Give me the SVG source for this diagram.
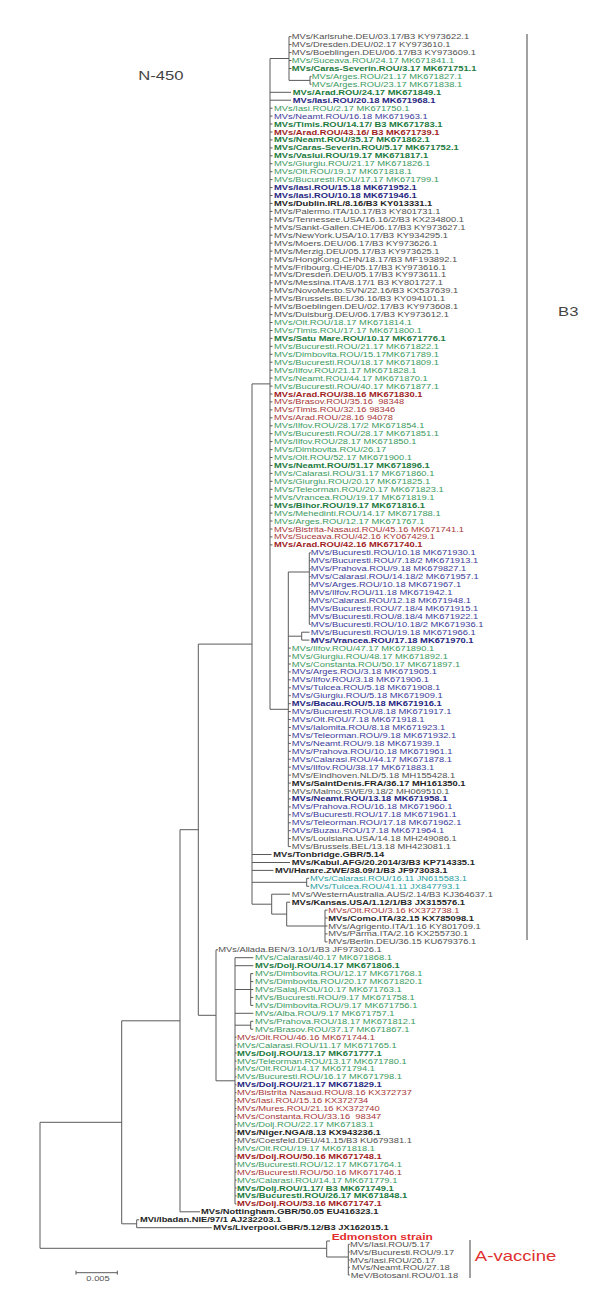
<svg xmlns="http://www.w3.org/2000/svg" width="611" height="1299" viewBox="0 0 611 1299">
<style>
.t{font-family:"Liberation Sans",Arial,sans-serif;font-size:7.3px}
.k{fill:#505050}.kb{fill:#262626;font-weight:bold}
.g{fill:#3a9a5e}.gb{fill:#237a3e;font-weight:bold}
.b{fill:#3b3b98}.bb{fill:#27277f;font-weight:bold}
.r{fill:#a83838}.rb{fill:#a01e1e;font-weight:bold}
.tl{fill:#2aa0a0}
.ln{fill:none;stroke:#5a5a5a;stroke-width:1}
.big{font-family:"Liberation Sans",Arial,sans-serif;font-size:13px;fill:#444}
</style>
<rect width="611" height="1299" fill="#fff"/>
<g id="connectors" class="ln">
<path d="M289 36.7V80.4M289 36.7h2.5M289 44.6h2.5M289 52.6h2.5M289 60.5h2.5M289 68.5h2.5M289 80.4H310M310 76.4V84.3M310 76.4h1.5M310 84.3h1.5M270 58.5H289M270 58.5V709.3M270 92.3H291M270 100.2H291"/>
<path d="M270 108.2h2.5M270 116.1h2.5M270 124h2.5M270 132h2.5M270 139.9h2.5M270 147.9h2.5M270 155.8h2.5M270 163.7h2.5M270 171.7h2.5M270 179.6h2.5M270 187.6h2.5M270 195.5h2.5M270 203.4h2.5M270 211.4h2.5M270 219.3h2.5M270 227.3h2.5M270 235.2h2.5M270 243.1h2.5M270 251.1h2.5M270 259h2.5M270 267h2.5M270 274.9h2.5M270 282.8h2.5M270 290.8h2.5M270 298.7h2.5M270 306.7h2.5M270 314.6h2.5M270 322.5h2.5M270 330.5h2.5M270 338.4h2.5M270 346.4h2.5M270 354.3h2.5M270 362.2h2.5M270 370.2h2.5M270 378.1h2.5M270 386.1h2.5M270 394h2.5M270 401.9h2.5M270 409.9h2.5M270 417.8h2.5M270 425.8h2.5M270 433.7h2.5M270 441.6h2.5M270 449.6h2.5M270 457.5h2.5M270 465.5h2.5M270 473.4h2.5M270 481.3h2.5M270 489.3h2.5M270 497.2h2.5M270 505.2h2.5M270 513.1h2.5M270 521h2.5M270 529h2.5M270 536.9h2.5M270 544.9h2.5"/>
<path d="M270 709.3H288.3M288.3 572V846.6M288.3 572H309.3M309.3 552.8V624.3M309.3 552.8h1.5M309.3 560.7h1.5M309.3 568.7h1.5M309.3 576.6h1.5M309.3 584.6h1.5M309.3 592.5h1.5M309.3 600.4h1.5M309.3 608.4h1.5M309.3 616.3h1.5M309.3 624.3h1.5M288.3 636.2H301.7M301.7 632.2V640.1M301.7 632.2H309.5M301.7 640.1H309.5"/>
<path d="M288.3 648.1h2.5M288.3 656h2.5M288.3 664h2.5M288.3 671.9h2.5M288.3 679.8h2.5M288.3 687.8h2.5M288.3 695.7h2.5M288.3 703.7h2.5M288.3 711.6h2.5M288.3 719.5h2.5M288.3 727.5h2.5M288.3 735.4h2.5M288.3 743.4h2.5M288.3 751.3h2.5M288.3 759.2h2.5M288.3 767.2h2.5M288.3 775.1h2.5M288.3 783.1h2.5M288.3 791h2.5M288.3 798.9h2.5M288.3 806.9h2.5M288.3 814.8h2.5M288.3 822.8h2.5M288.3 830.7h2.5M288.3 838.6h2.5M288.3 846.6h2.5"/>
<path d="M252 383.9H270M252 383.9V904.2M252 854.5H271.5M252 862.5H290M252 870.4H273.5M252 882.3H306.7M306.7 878.3V886.3M306.7 878.3h2.5M306.7 886.3h2.5M252 904.2H271.7M271.7 894.2V914.1M271.7 894.2H290M271.7 914.1H286.7M286.7 902.2V926M286.7 902.2h3.5M286.7 926H325M325 910.1V941.9M325 910.1h2.5M325 918h2.5M325 926h2.5M325 933.9h2.5M325 941.9h2.5"/>
<path d="M198.3 644.1H252M198.3 644.1V1015.3M198.3 1015.3H216M216 949.8V1080.8M216 949.8h2M216 1080.8H235M235 957.7V1203.9M235 957.7H253.3M235 965.7H253.3M235 989.5H250.7M250.7 973.6V1005.4M250.7 973.6H253.3M250.7 981.6H253.3M250.7 989.5H253.3M250.7 997.4H253.3M250.7 1005.4H253.3M235 1013.3H253.3M235 1025.2H250.7M250.7 1021.3V1029.2M250.7 1021.3H253.3M250.7 1029.2H253.3"/>
<path d="M235 1037.1h1.5M235 1045.1h1.5M235 1053h1.5M235 1061h1.5M235 1068.9h1.5M235 1076.8h1.5M235 1084.8h1.5M235 1092.7h1.5M235 1100.7h1.5M235 1108.6h1.5M235 1116.5h1.5M235 1124.5h1.5M235 1132.4h1.5M235 1140.4h1.5M235 1148.3h1.5M235 1156.2h1.5M235 1164.2h1.5M235 1172.1h1.5M235 1180.1h1.5M235 1188h1.5M235 1195.9h1.5M235 1203.9h1.5"/>
<path d="M180 829.7H198.3M180 829.7V1211.8M180 1211.8H200M121.7 1020.8H180M121.7 1020.8V1223.8M121.7 1223.8H136.7M136.7 1219.8V1227.7M136.7 1219.8h2.5M136.7 1227.7H211.7M40 1122.3H121.7M40 1122.3V1248.3M40 1248.3H326.7M326.7 1241V1257M326.7 1241H330M326.7 1257H348.3M348.3 1244.3V1275M348.3 1244.3h1.5M348.3 1252h1.5M348.3 1260h1.5M348.3 1267.3h1.5M348.3 1275h1.5"/>
<path d="M76 1272.7H117.3M76 1270.7V1274.7M117.3 1270.7V1274.7"/>
<path d="M527 34V940M470 1240V1278" stroke="#444"/>
</g>
<g class="t" transform="scale(1.28 1)">
<g id="L1"><text x="227.9" y="39.3" class="k">MVs/Karlsruhe.DEU/03.17/B3 KY973622.1</text></g>
<g id="L2"><text x="227.9" y="47.2" class="k">MVs/Dresden.DEU/02.17 KY973610.1</text></g>
<g id="L3"><text x="227.9" y="55.2" class="k">MVs/Boeblingen.DEU/06.17/B3 KY973609.1</text></g>
<g id="L4"><text x="227.9" y="63.1" class="g">MVs/Suceava.ROU/24.17 MK671841.1</text></g>
<g id="L5"><text x="227.9" y="71.1" class="gb">MVs/Caras-Severin.ROU/3.17 MK671751.1</text></g>
<g id="L6"><text x="243.5" y="79" class="g">MVs/Arges.ROU/21.17 MK671827.1</text></g>
<g id="L7"><text x="243.5" y="86.9" class="g">MVs/Arges.ROU/23.17 MK671838.1</text></g>
<g id="L8"><text x="228.7" y="94.9" class="gb">MVs/Arad.ROU/24.17 MK671849.1</text></g>
<g id="L9"><text x="228.7" y="102.8" class="bb">MVs/Iasi.ROU/20.18 MK671968.1</text></g>
<g id="L10"><text x="214.1" y="110.8" class="g">MVs/Iasi.ROU/2.17 MK671750.1</text></g>
<g id="L11"><text x="214.1" y="118.7" class="b">MVs/Neamt.ROU/16.18 MK671963.1</text></g>
<g id="L12"><text x="214.1" y="126.6" class="gb">MVs/Timis.ROU/14.17/ B3 MK671783.1</text></g>
<g id="L13"><text x="214.1" y="134.6" class="rb">MVs/Arad.ROU/43.16/ B3 MK671739.1</text></g>
<g id="L14"><text x="214.1" y="142.5" class="gb">MVs/Neamt.ROU/35.17 MK671862.1</text></g>
<g id="L15"><text x="214.1" y="150.5" class="gb">MVs/Caras-Severin.ROU/5.17 MK671752.1</text></g>
<g id="L16"><text x="214.1" y="158.4" class="gb">MVs/Vaslui.ROU/19.17 MK671817.1</text></g>
<g id="L17"><text x="214.1" y="166.3" class="g">MVs/Giurgiu.ROU/21.17 MK671826.1</text></g>
<g id="L18"><text x="214.1" y="174.3" class="g">MVs/Olt.ROU/19.17 MK671818.1</text></g>
<g id="L19"><text x="214.1" y="182.2" class="g">MVs/Bucuresti.ROU/17.17 MK671799.1</text></g>
<g id="L20"><text x="214.1" y="190.2" class="bb">MVs/Iasi.ROU/15.18 MK671952.1</text></g>
<g id="L21"><text x="214.1" y="198.1" class="bb">MVs/Iasi.ROU/10.18 MK671946.1</text></g>
<g id="L22"><text x="214.1" y="206" class="kb">MVs/Dublin.IRL/8.16/B3 KY013331.1</text></g>
<g id="L23"><text x="214.1" y="214" class="k">MVs/Palermo.ITA/10.17/B3 KY801731.1</text></g>
<g id="L24"><text x="214.1" y="221.9" class="k">MVs/Tennessee.USA/16.16/2/B3 KX234800.1</text></g>
<g id="L25"><text x="214.1" y="229.9" class="k">MVs/Sankt-Gallen.CHE/06.17/B3 KY973627.1</text></g>
<g id="L26"><text x="214.1" y="237.8" class="k">MVs/NewYork.USA/10.17/B3 KY934295.1</text></g>
<g id="L27"><text x="214.1" y="245.7" class="k">MVs/Moers.DEU/06.17/B3 KY973626.1</text></g>
<g id="L28"><text x="214.1" y="253.7" class="k">MVs/Merzig.DEU/05.17/B3 KY973625.1</text></g>
<g id="L29"><text x="214.1" y="261.6" class="k">MVs/HongKong.CHN/18.17/B3 MF193892.1</text></g>
<g id="L30"><text x="214.1" y="269.6" class="k">MVs/Fribourg.CHE/05.17/B3 KY973616.1</text></g>
<g id="L31"><text x="214.1" y="277.5" class="k">MVs/Dresden.DEU/05.17/B3 KY973611.1</text></g>
<g id="L32"><text x="214.1" y="285.4" class="k">MVs/Messina.ITA/8.17/1 B3 KY801727.1</text></g>
<g id="L33"><text x="214.1" y="293.4" class="k">MVs/NovoMesto.SVN/22.16/B3 KX537639.1</text></g>
<g id="L34"><text x="214.1" y="301.3" class="k">MVs/Brussels.BEL/36.16/B3 KY094101.1</text></g>
<g id="L35"><text x="214.1" y="309.3" class="k">MVs/Boeblingen.DEU/02.17/B3 KY973608.1</text></g>
<g id="L36"><text x="214.1" y="317.2" class="k">MVs/Duisburg.DEU/06.17/B3 KY973612.1</text></g>
<g id="L37"><text x="214.1" y="325.1" class="g">MVs/Olt.ROU/18.17 MK671814.1</text></g>
<g id="L38"><text x="214.1" y="333.1" class="g">MVs/Timis.ROU/17.17 MK671800.1</text></g>
<g id="L39"><text x="214.1" y="341" class="gb">MVs/Satu Mare.ROU/10.17 MK671776.1</text></g>
<g id="L40"><text x="214.1" y="349" class="g">MVs/Bucuresti.ROU/21.17 MK671822.1</text></g>
<g id="L41"><text x="214.1" y="356.9" class="g">MVs/Dimbovita.ROU/15.17MK671789.1</text></g>
<g id="L42"><text x="214.1" y="364.8" class="g">MVs/Bucuresti.ROU/18.17 MK671809.1</text></g>
<g id="L43"><text x="214.1" y="372.8" class="g">MVs/Ilfov.ROU/21.17 MK671828.1</text></g>
<g id="L44"><text x="214.1" y="380.7" class="g">MVs/Neamt.ROU/44.17 MK671870.1</text></g>
<g id="L45"><text x="214.1" y="388.7" class="g">MVs/Bucuresti.ROU/40.17 MK671877.1</text></g>
<g id="L46"><text x="214.1" y="396.6" class="rb">MVs/Arad.ROU/38.16 MK671830.1</text></g>
<g id="L47"><text x="214.1" y="404.5" class="r">MVs/Brasov.ROU/35.16&#160; 98348</text></g>
<g id="L48"><text x="214.1" y="412.5" class="r">MVs/Timis.ROU/32.16 98346</text></g>
<g id="L49"><text x="214.1" y="420.4" class="r">MVs/Arad.ROU/28.16 94078</text></g>
<g id="L50"><text x="214.1" y="428.4" class="g">MVs/Ilfov.ROU/28.17/2 MK671854.1</text></g>
<g id="L51"><text x="214.1" y="436.3" class="g">MVs/Bucuresti.ROU/28.17 MK671851.1</text></g>
<g id="L52"><text x="214.1" y="444.2" class="g">MVs/Ilfov.ROU/28.17 MK671850.1</text></g>
<g id="L53"><text x="214.1" y="452.2" class="g">MVs/Dimbovita.ROU/26.17</text></g>
<g id="L54"><text x="214.1" y="460.1" class="g">MVs/Olt.ROU/52.17 MK671900.1</text></g>
<g id="L55"><text x="214.1" y="468.1" class="gb">MVs/Neamt.ROU/51.17 MK671896.1</text></g>
<g id="L56"><text x="214.1" y="476" class="g">MVs/Calarasi.ROU/31.17 MK671860.1</text></g>
<g id="L57"><text x="214.1" y="483.9" class="g">MVs/Giurgiu.ROU/20.17 MK671825.1</text></g>
<g id="L58"><text x="214.1" y="491.9" class="g">MVs/Teleorman.ROU/20.17 MK671823.1</text></g>
<g id="L59"><text x="214.1" y="499.8" class="g">MVs/Vrancea.ROU/19.17 MK671819.1</text></g>
<g id="L60"><text x="214.1" y="507.8" class="gb">MVs/Bihor.ROU/19.17 MK671816.1</text></g>
<g id="L61"><text x="214.1" y="515.7" class="g">MVs/Mehedinti.ROU/14.17 MK671788.1</text></g>
<g id="L62"><text x="214.1" y="523.6" class="g">MVs/Arges.ROU/12.17 MK671767.1</text></g>
<g id="L63"><text x="214.1" y="531.6" class="r">MVs/Bistrita-Nasaud.ROU/45.16 MK671741.1</text></g>
<g id="L64"><text x="214.1" y="539.5" class="r">MVs/Suceava.ROU/42.16 KY067429.1</text></g>
<g id="L65"><text x="214.1" y="547.5" class="rb">MVs/Arad.ROU/42.16 MK671740.1</text></g>
<g id="L66"><text x="242.7" y="555.4" class="b">MVs/Bucuresti.ROU/10.18 MK671930.1</text></g>
<g id="L67"><text x="242.7" y="563.3" class="b">MVs/Bucuresti.ROU/7.18/2 MK671913.1</text></g>
<g id="L68"><text x="242.7" y="571.3" class="b">MVs/Prahova.ROU/9.18 MK679827.1</text></g>
<g id="L69"><text x="242.7" y="579.2" class="b">MVs/Calarasi.ROU/14.18/2 MK671957.1</text></g>
<g id="L70"><text x="242.7" y="587.2" class="b">MVs/Arges.ROU/10.18 MK671967.1</text></g>
<g id="L71"><text x="242.7" y="595.1" class="b">MVs/Ilfov.ROU/11.18 MK671942.1</text></g>
<g id="L72"><text x="242.7" y="603" class="b">MVs/Calarasi.ROU/12.18 MK671948.1</text></g>
<g id="L73"><text x="242.7" y="611" class="b">MVs/Bucuresti.ROU/7.18/4 MK671915.1</text></g>
<g id="L74"><text x="242.7" y="618.9" class="b">MVs/Bucuresti.ROU/8.18/4 MK671922.1</text></g>
<g id="L75"><text x="242.7" y="626.9" class="b">MVs/Bucuresti.ROU/10.18/2 MK671936.1</text></g>
<g id="L76"><text x="242.7" y="634.8" class="b">MVs/Bucuresti.ROU/19.18 MK671966.1</text></g>
<g id="L77"><text x="242.7" y="642.7" class="bb">MVs/Vrancea.ROU/17.18 MK671970.1</text></g>
<g id="L78"><text x="227.9" y="650.7" class="g">MVs/Ilfov.ROU/47.17 MK671890.1</text></g>
<g id="L79"><text x="227.9" y="658.6" class="g">MVs/Giurgiu.ROU/48.17 MK671892.1</text></g>
<g id="L80"><text x="227.9" y="666.6" class="g">MVs/Constanta.ROU/50.17 MK671897.1</text></g>
<g id="L81"><text x="227.9" y="674.5" class="b">MVs/Arges.ROU/3.18 MK671905.1</text></g>
<g id="L82"><text x="227.9" y="682.4" class="b">MVs/Ilfov.ROU/3.18 MK671906.1</text></g>
<g id="L83"><text x="227.9" y="690.4" class="b">MVs/Tulcea.ROU/5.18 MK671908.1</text></g>
<g id="L84"><text x="227.9" y="698.3" class="b">MVs/Giurgiu.ROU/5.18 MK671909.1</text></g>
<g id="L85"><text x="227.9" y="706.3" class="bb">MVs/Bacau.ROU/5.18 MK671916.1</text></g>
<g id="L86"><text x="227.9" y="714.2" class="b">MVs/Bucuresti.ROU/8.18 MK671917.1</text></g>
<g id="L87"><text x="227.9" y="722.1" class="b">MVs/Olt.ROU/7.18 MK671918.1</text></g>
<g id="L88"><text x="227.9" y="730.1" class="b">MVs/Ialomita.ROU/8.18 MK671923.1</text></g>
<g id="L89"><text x="227.9" y="738" class="b">MVs/Teleorman.ROU/9.18 MK671932.1</text></g>
<g id="L90"><text x="227.9" y="746" class="b">MVs/Neamt.ROU/9.18 MK671939.1</text></g>
<g id="L91"><text x="227.9" y="753.9" class="b">MVs/Prahova.ROU/10.18 MK671961.1</text></g>
<g id="L92"><text x="227.9" y="761.8" class="b">MVs/Calarasi.ROU/44.17 MK671878.1</text></g>
<g id="L93"><text x="227.9" y="769.8" class="b">MVs/Ilfov.ROU/38.17 MK671883.1</text></g>
<g id="L94"><text x="227.9" y="777.7" class="k">MVs/Eindhoven.NLD/5.18 MH155428.1</text></g>
<g id="L95"><text x="227.9" y="785.7" class="kb">MVs/SaintDenis.FRA/36.17 MH161350.1</text></g>
<g id="L96"><text x="227.9" y="793.6" class="k">MVs/Malmo.SWE/9.18/2 MH069510.1</text></g>
<g id="L97"><text x="227.9" y="801.5" class="bb">MVs/Neamt.ROU/13.18 MK671958.1</text></g>
<g id="L98"><text x="227.9" y="809.5" class="b">MVs/Prahova.ROU/16.18 MK671960.1</text></g>
<g id="L99"><text x="227.9" y="817.4" class="b">MVs/Bucuresti.ROU/17.18 MK671961.1</text></g>
<g id="L100"><text x="227.9" y="825.4" class="b">MVs/Teleorman.ROU/17.18 MK671962.1</text></g>
<g id="L101"><text x="227.9" y="833.3" class="b">MVs/Buzau.ROU/17.18 MK671964.1</text></g>
<g id="L102"><text x="227.9" y="841.2" class="k">MVs/Louisiana.USA/14.18 MH249086.1</text></g>
<g id="L103"><text x="227.9" y="849.2" class="k">MVs/Brussels.BEL/13.18 MH423081.1</text></g>
<g id="L104"><text x="213.5" y="857.1" class="kb">MVs/Tonbridge.GBR/5.14</text></g>
<g id="L105"><text x="227.9" y="865.1" class="kb">MVs/Kabul.AFG/20.2014/3/B3 KP714335.1</text></g>
<g id="L106"><text x="214.8" y="873" class="kb">MVi/Harare.ZWE/38.09/1/B3 JF973033.1</text></g>
<g id="L107"><text x="242.2" y="880.9" class="tl">MVs/Calarasi.ROU/16.11 JN615583.1</text></g>
<g id="L108"><text x="242.2" y="888.9" class="tl">MVs/Tulcea.ROU/41.11 JX847793.1</text></g>
<g id="L109"><text x="227.9" y="896.8" class="k">MVs/WesternAustralia.AUS/2.14/B3 KJ364637.1</text></g>
<g id="L110"><text x="227.9" y="904.8" class="kb">MVs/Kansas.USA/1.12/1/B3 JX315576.1</text></g>
<g id="L111"><text x="256.5" y="912.7" class="r">MVs/Olt.ROU/3.16 KX372738.1</text></g>
<g id="L112"><text x="256.5" y="920.6" class="kb">MVs/Como.ITA/32.15 KX785098.1</text></g>
<g id="L113"><text x="256.5" y="928.6" class="k">MVs/Agrigento.ITA/1.16 KY801709.1</text></g>
<g id="L114"><text x="256.5" y="936.5" class="k">MVs/Parma.ITA/2.16 KX255730.1</text></g>
<g id="L115"><text x="256.5" y="944.5" class="k">MVs/Berlin.DEU/36.15 KU679376.1</text></g>
<g id="L116"><text x="170.5" y="952.4" class="k">MVs/Allada.BEN/3.10/1/B3 JF973026.1</text></g>
<g id="L117"><text x="199.2" y="960.3" class="g">MVs/Calarasi/40.17 MK671868.1</text></g>
<g id="L118"><text x="199.2" y="968.3" class="gb">MVs/Dolj.ROU/14.17 MK671806.1</text></g>
<g id="L119"><text x="199.2" y="976.2" class="g">MVs/Dimbovita.ROU/12.17 MK671768.1</text></g>
<g id="L120"><text x="199.2" y="984.2" class="g">MVs/Dimbovita.ROU/20.17 MK671820.1</text></g>
<g id="L121"><text x="199.2" y="992.1" class="g">MVs/Salaj.ROU/10.17 MK671763.1</text></g>
<g id="L122"><text x="199.2" y="1000" class="g">MVs/Bucuresti.ROU/9.17 MK671758.1</text></g>
<g id="L123"><text x="199.2" y="1008" class="g">MVs/Dimbovita.ROU/9.17 MK671756.1</text></g>
<g id="L124"><text x="199.2" y="1015.9" class="g">MVs/Alba.ROU/9.17 MK671757.1</text></g>
<g id="L125"><text x="199.2" y="1023.9" class="g">MVs/Prahova.ROU/18.17 MK671812.1</text></g>
<g id="L126"><text x="199.2" y="1031.8" class="g">MVs/Brasov.ROU/37.17 MK671867.1</text></g>
<g id="L127"><text x="185.2" y="1039.7" class="r">MVs/Olt.ROU/46.16 MK671744.1</text></g>
<g id="L128"><text x="185.2" y="1047.7" class="g">MVs/Calarasi.ROU/11.17 MK671765.1</text></g>
<g id="L129"><text x="185.2" y="1055.6" class="gb">MVs/Dolj.ROU/13.17 MK671777.1</text></g>
<g id="L130"><text x="185.2" y="1063.6" class="g">MVs/Teleorman.ROU/13.17 MK671780.1</text></g>
<g id="L131"><text x="185.2" y="1071.5" class="g">MVs/Olt.ROU/14.17 MK671794.1</text></g>
<g id="L132"><text x="185.2" y="1079.4" class="g">MVs/Bucuresti.ROU/16.17 MK671798.1</text></g>
<g id="L133"><text x="185.2" y="1087.4" class="bb">MVs/Dolj.ROU/21.17 MK671829.1</text></g>
<g id="L134"><text x="185.2" y="1095.3" class="r">MVs/Bistrita Nasaud.ROU/8.16 KX372737</text></g>
<g id="L135"><text x="185.2" y="1103.3" class="r">MVs/Iasi.ROU/15.16 KX372734</text></g>
<g id="L136"><text x="185.2" y="1111.2" class="r">MVs/Mures.ROU/21.16 KX372740</text></g>
<g id="L137"><text x="185.2" y="1119.1" class="r">MVs/Constanta.ROU/33.16&#160; 98347</text></g>
<g id="L138"><text x="185.2" y="1127.1" class="g">MVs/Dolj.ROU/22.17 MK67183.1</text></g>
<g id="L139"><text x="185.2" y="1135" class="kb">MVs/Niger.NGA/8.13 KX943236.1</text></g>
<g id="L140"><text x="185.2" y="1143" class="k">MVs/Coesfeld.DEU/41.15/B3 KU679381.1</text></g>
<g id="L141"><text x="185.2" y="1150.9" class="g">MVs/Olt.ROU/19.17 MK671818.1</text></g>
<g id="L142"><text x="185.2" y="1158.8" class="rb">MVs/Dolj.ROU/50.16 MK671748.1</text></g>
<g id="L143"><text x="185.2" y="1166.8" class="g">MVs/Bucuresti.ROU/12.17 MK671764.1</text></g>
<g id="L144"><text x="185.2" y="1174.7" class="r">MVs/Bucuresti.ROU/50.16 MK671746.1</text></g>
<g id="L145"><text x="185.2" y="1182.7" class="g">MVs/Calarasi.ROU/14.17 MK671779.1</text></g>
<g id="L146"><text x="185.2" y="1190.6" class="gb">MVs/Dolj.ROU/1.17/ B3 MK671749.1</text></g>
<g id="L147"><text x="185.2" y="1198.5" class="gb">MVs/Bucuresti.ROU/26.17 MK671848.1</text></g>
<g id="L148"><text x="185.2" y="1206.5" class="rb">MVs/Dolj.ROU/53.16 MK671747.1</text></g>
<g id="L149"><text x="157" y="1214.4" class="kb">MVs/Nottingham.GBR/50.05 EU416323.1</text></g>
<g id="L150"><text x="109.4" y="1222.4" class="kb">MVi/Ibadan.NIE/97/1 AJ232203.1</text></g>
<g id="L151"><text x="166.6" y="1230.3" class="kb">MVs/Liverpool.GBR/5.12/B3 JX162015.1</text></g>
<g id="Edmonston"><text x="259.1" y="1239.6" style="font-size:9.3px;font-weight:bold;fill:#e32b2b">Edmonston strain</text></g>
<g id="V1"><text x="273.4" y="1246.9" class="k">MVs/Iasi.ROU/5.17</text></g>
<g id="V2"><text x="273.4" y="1254.6" class="k">MVs/Bucuresti.ROU/9.17</text></g>
<g id="V3"><text x="273.4" y="1262.6" class="k">MVs/Iasi.ROU/26.17</text></g>
<g id="V4"><text x="274.8" y="1269.9" class="k">MVs/Neamt.ROU/27.18</text></g>
<g id="V5"><text x="274" y="1277.6" class="k">MeV/Botosani.ROU/01.18</text></g>
<g id="scale"><text x="76.6" y="1281.5" class="k" text-anchor="middle">0.005</text></g>
<g id="N450"><text x="108" y="80" class="big">N-450</text></g>
<g id="B3"><text x="436" y="316.5" class="big">B3</text></g>
<g id="Avaccine"><text x="371" y="1261" class="big" style="fill:#e03030;font-size:14.5px">A-vaccine</text></g>
</g>
</svg>
